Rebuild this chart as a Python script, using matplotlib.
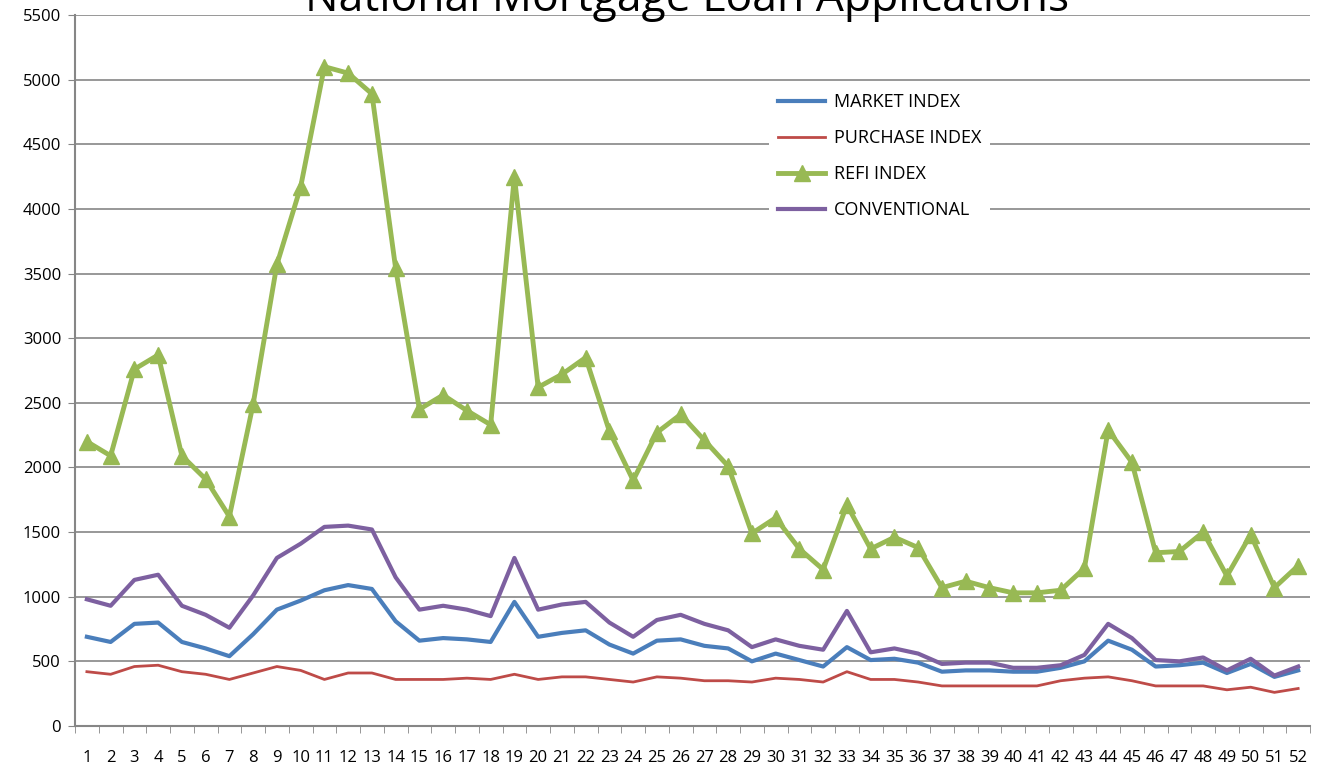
import numpy as np
import matplotlib
matplotlib.use('Agg')
import matplotlib.pyplot as plt

plt.rcParams['font.family'] = ['Open Sans', 'DejaVu Sans']

weeks = list(range(1, 53))

market = [690, 650, 790, 800, 650, 600, 540, 710, 900, 970, 1050, 1090, 1060, 810, 660, 680,
          670, 650, 960, 690, 720, 740, 630, 560, 660, 670, 620, 600, 500, 560, 510, 460,
          610, 510, 520, 490, 420, 430, 430, 420, 420, 450, 500, 660, 590, 460, 470, 490,
          410, 480, 380, 430]
purchase = [420, 400, 460, 470, 420, 400, 360, 410, 460, 430, 360, 410, 410, 360, 360, 360,
            370, 360, 400, 360, 380, 380, 360, 340, 380, 370, 350, 350, 340, 370, 360, 340,
            420, 360, 360, 340, 310, 310, 310, 310, 310, 350, 370, 380, 350, 310, 310, 310,
            280, 300, 260, 290]
refi = [2200, 2090, 2760, 2870, 2090, 1910, 1620, 2490, 3570, 4170, 5100, 5050, 4890, 3540,
        2450, 2560, 2440, 2330, 4250, 2620, 2720, 2850, 2280, 1900, 2270, 2410, 2210, 2010,
        1490, 1610, 1370, 1210, 1710, 1370, 1460, 1380, 1070, 1120, 1070, 1030, 1030, 1050,
        1220, 2290, 2040, 1340, 1350, 1500, 1160, 1480, 1070, 1240]
conventional = [980, 930, 1130, 1170, 930, 860, 760, 1010, 1300, 1410, 1540, 1550, 1520, 1150,
                900, 930, 900, 850, 1300, 900, 940, 960, 800, 690, 820, 860, 790, 740, 610,
                670, 620, 590, 890, 570, 600, 560, 480, 490, 490, 450, 450, 470, 550, 790,
                680, 510, 500, 530, 430, 520, 390, 460]

fig = plt.figure(figsize=(13.23, 7.68), dpi=100)
ax = fig.add_axes([0.0567, 0.0547, 0.9335, 0.9258])

ax.plot(weeks, market, color='#4A7EBB', lw=3, label='MARKET INDEX', zorder=3)
ax.plot(weeks, purchase, color='#BE4B48', lw=2, label='PURCHASE INDEX', zorder=3)
ax.plot(weeks, refi, color='#98B954', lw=3.5, marker='^', markersize=12,
        label='REFI INDEX', zorder=3)
ax.plot(weeks, conventional, color='#7D60A0', lw=3, label='CONVENTIONAL', zorder=3)

ax.set_xlim(0.5, 52.5)
ax.set_ylim(0, 5500)
ax.set_yticks(range(0, 5501, 500))
ax.set_xticks(weeks)
ax.set_xticks(np.arange(0.5, 53, 1), minor=True)
ax.tick_params(axis='x', which='major', length=0, pad=17, labelsize=12)
ax.tick_params(axis='x', which='minor', length=5, color='#868686', direction='out')
ax.tick_params(axis='y', length=5, color='#868686', labelsize=12, pad=5)

ax.yaxis.grid(True, color='#868686', lw=1.2)
ax.set_axisbelow(True)
for s in ['top', 'right']:
    ax.spines[s].set_visible(False)
ax.spines['left'].set_color('#868686')
ax.spines['bottom'].set_color('#868686')
ax.spines['left'].set_linewidth(1.5)
ax.spines['bottom'].set_linewidth(1.5)

# legend sits on a white box that hides the gridlines behind it
leg = ax.legend(loc='upper left', bbox_to_anchor=(0.562, 0.903), frameon=True,
                fontsize=13, handlelength=2.6, labelspacing=1.0, borderpad=0.5,
                handletextpad=0.5, borderaxespad=0)
leg.get_frame().set_edgecolor('none')
leg.get_frame().set_facecolor('white')
leg.get_frame().set_alpha(1)

fig.text(0.519, 0.986, 'National Mortgage Loan Applications', ha='center',
         va='baseline', fontsize=32)

fig.savefig('out.png', dpi=100)
